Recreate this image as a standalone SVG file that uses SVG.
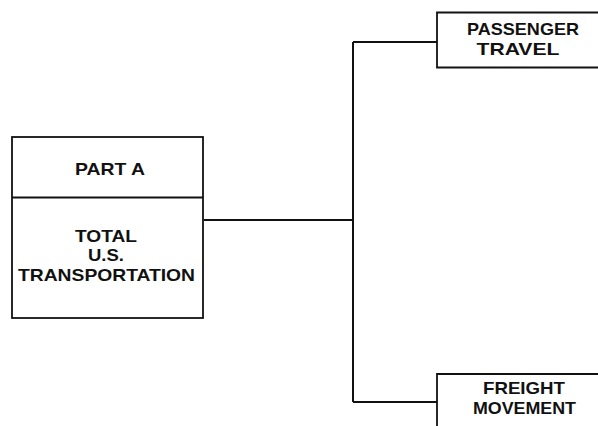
<svg xmlns="http://www.w3.org/2000/svg" width="598" height="426" viewBox="0 0 598 426">
<style>
.box{fill:#fff;stroke:#111;stroke-width:1.8}
.ln{fill:none;stroke:#111;stroke-width:2}
text{font-family:"Liberation Sans",Arial,sans-serif;font-weight:bold;font-size:17px;fill:#111;text-anchor:middle}
</style>
<rect width="598" height="426" fill="#fff"/>
<g id="connectors">
<path class="ln" d="M204 220 H353 M353 42 V402 M353 42 H437 M353 402 H437"/>
</g>
<g id="part-a">
<rect class="box" x="12" y="137" width="191" height="181"/>
<line class="ln" x1="12" y1="197.5" x2="203" y2="197.5" stroke-width="1.8"/>
<text x="110" y="175" textLength="70" lengthAdjust="spacingAndGlyphs">PART A</text>
<text x="106" y="242" textLength="62" lengthAdjust="spacingAndGlyphs">TOTAL</text>
<text x="106" y="261" textLength="36" lengthAdjust="spacingAndGlyphs">U.S.</text>
<text x="106.5" y="281" textLength="177" lengthAdjust="spacingAndGlyphs">TRANSPORTATION</text>
</g>
<g id="passenger">
<path class="box" d="M600 12.5 H437 V67.5 H600"/>
<text x="523" y="35" textLength="112" lengthAdjust="spacingAndGlyphs">PASSENGER</text>
<text x="518" y="55" textLength="83" lengthAdjust="spacingAndGlyphs">TRAVEL</text>
</g>
<g id="freight">
<path class="box" d="M600 374 H437 V430"/>
<text x="524" y="394" textLength="82" lengthAdjust="spacingAndGlyphs">FREIGHT</text>
<text x="524.5" y="414" textLength="103" lengthAdjust="spacingAndGlyphs">MOVEMENT</text>
</g>
</svg>
